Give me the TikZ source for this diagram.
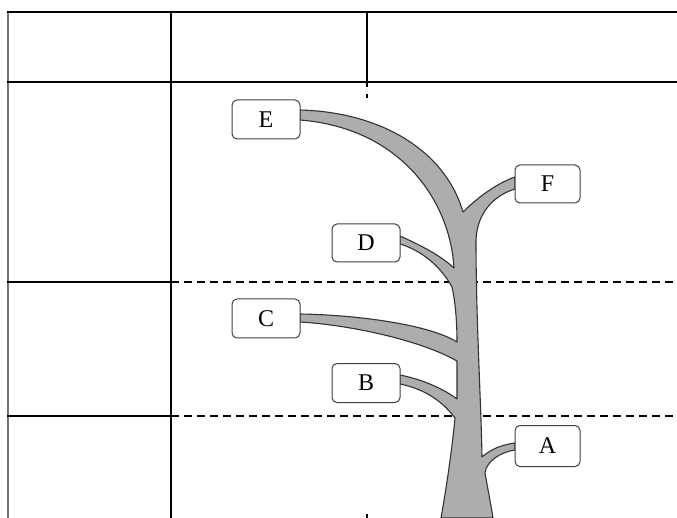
\documentclass[tikz,border=0pt]{standalone}
\usepackage{fontspec}
\setmainfont{Liberation Serif}
\begin{document}
\begin{tikzpicture}[x=1pt,y=-1pt,
  rule/.style={line width=2pt,black},
  dashrule/.style={line width=2pt,black,dash pattern=on 8pt off 5pt},
  lbl/.style={draw=black!75,line width=1pt,fill=white,rounded corners=5pt,inner sep=0pt,
    font=\fontsize{24}{28}\selectfont},
  trunk/.style={fill=black!32,draw=black!80,line width=1.1pt,line join=round}]
\useasboundingbox (0,0) rectangle (677,518);
% table
\draw[line width=1.2pt,black!55] (8,12) -- (8,518);
\draw[rule] (7,12) -- (677,12);
\draw[rule] (7,82) -- (677,82);
\draw[rule] (171,12) -- (171,518);
\draw[rule] (367,12) -- (367,87);
\draw[rule] (367,94) -- (367,98);
\draw[rule] (367,514) -- (367,518);
\draw[rule] (7,282) -- (171,282);
\draw[rule] (7,416) -- (171,416);
\draw[dashrule] (171,282) -- (677,282);
\draw[dashrule] (171,416) -- (677,416);
% tree
\draw[trunk] (300,110)
  .. controls (380,112) and (445,150) .. (463,212)
  .. controls (480,195) and (500,182) .. (515,177)
  -- (515,189)
  .. controls (495,195) and (477,212) .. (476,240)
  .. controls (476,320) and (481,400) .. (482,457)
  .. controls (490,450) and (500,445) .. (515,443)
  -- (515,450)
  .. controls (500,452) and (486,462) .. (485,473)
  .. controls (488,490) and (491,505) .. (493,518)
  -- (441,518)
  .. controls (446,490) and (452,450) .. (455,418)
  .. controls (440,398) and (420,388) .. (400,384)
  -- (400,375)
  .. controls (425,380) and (445,390) .. (457,399)
  -- (457,361)
  .. controls (420,340) and (350,325) .. (300,322)
  -- (300,314)
  .. controls (360,315) and (430,325) .. (457,342)
  .. controls (457,320) and (455,300) .. (452,287)
  .. controls (440,265) and (420,250) .. (400,244)
  -- (400,236)
  .. controls (420,245) and (440,255) .. (454,268)
  .. controls (450,200) and (400,128) .. (300,120)
  -- cycle;
% labels
\node[lbl,minimum width=68pt,minimum height=39pt] (E) at (266,119.5) {E};
\node[lbl,minimum width=68pt,minimum height=38pt] (D) at (366,243) {D};
\node[lbl,minimum width=65pt,minimum height=38pt] (F) at (547.5,184) {F};
\node[lbl,minimum width=68pt,minimum height=39pt] (C) at (266,318.5) {C};
\node[lbl,minimum width=68pt,minimum height=39pt] (B) at (366,383) {B};
\node[lbl,minimum width=65pt,minimum height=41pt] (A) at (547.5,446) {A};
\end{tikzpicture}
\end{document}
